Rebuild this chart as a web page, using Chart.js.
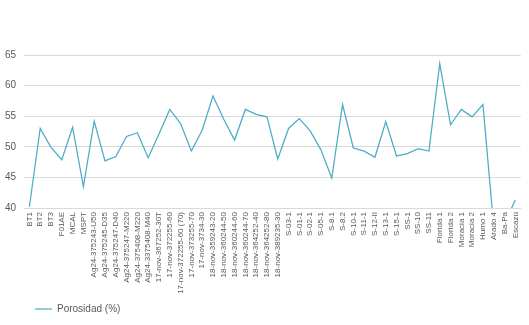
<!DOCTYPE html>
<html>
<head>
<meta charset="utf-8">
<script src="https://cdn.jsdelivr.net/npm/chart.js@4.4.1/dist/chart.umd.min.js"></script>
<style>
  html, body { margin: 0; padding: 0; background: #fff; }
  canvas { display: block; }
</style>
</head>
<body>
<canvas id="chart" width="529" height="325"></canvas>
<script>
// Chart data
const muestras = [
  "BT1", "BT2", "BT3", "F01AE", "MCAL", "MSPT",
  "Ag24-375243-U50", "Ag24-375245-D35", "Ag24-375247-D40", "Ag24-375247-M220",
  "Ag24-375408-M220", "Ag24-3375408-M40",
  "17-nov-367252-30T", "17-nov-372255-60", "17-nov-372255-60 (70)", "17-nov-373255-70", "17-nov-3734-30",
  "18-nov-359243-20", "18-nov-360244-50", "18-nov-360244-60", "18-nov-360244-70",
  "18-nov-364252-40", "18-nov-364252-80", "18-nov-389235-30",
  "S-03-1", "S-01-1", "S-02-1", "S-05-1", "S-8.1", "S-8.2", "S-10-1", "S-11-1", "S-12-II",
  "S-13-1", "S-15-1", "SS-1", "SS-10", "SS-11",
  "Florida 1", "Florida 2", "Moracia 1", "Moracia 2", "Humo 1", "Arado 4", "Ba-Pa", "Escazú"
];

const porosidad = [
  40.2, 53.0, 49.9, 47.9, 53.2, 43.5,
  54.2, 47.7, 48.4, 51.7,
  52.3, 48.2,
  52.1, 56.1, 53.8, 49.3, 52.7,
  58.3, 54.5, 51.1, 56.1,
  55.3, 54.9, 48.0,
  53.0, 54.6, 52.6, 49.5, 44.9, 56.9, 49.8, 49.3, 48.3,
  54.1, 48.5, 48.9, 49.7, 49.3,
  63.6, 53.6, 56.1, 54.9, 56.9, 37.0, 37.5, 41.3
];

const yTicks = [40, 45, 50, 55, 60, 65];

const textColor = "#595959";
const gridColor = "#d9d9d9";
const lineColor = "#4bacc6";
const fontFamily = "'Liberation Sans Narrow', 'Liberation Sans', sans-serif";

// move legend to the left like excel does
const legendShift = {
  id: "legendShift",
  afterLayout(chart) {
    chart.legend.left = 29;
  }
};

const ctx = document.getElementById("chart").getContext("2d");

new Chart(ctx, {
  type: "line",
  data: {
    labels: muestras,
    datasets: [{
      label: "Porosidad (%)",
      data: porosidad,
      borderColor: lineColor,
      backgroundColor: lineColor,
      borderWidth: 1.25,
      pointRadius: 0,
      tension: 0,
      clip: 0
    }]
  },
  options: {
    responsive: false,
    animation: false,
    devicePixelRatio: 1,
    layout: { padding: { top: 55, right: 7, left: 0, bottom: 1 } },
    plugins: {
      tooltip: { enabled: false },
      legend: {
        position: "bottom",
        align: "start",
        labels: {
          usePointStyle: true,
          pointStyle: "line",
          pointStyleWidth: 17,
          padding: 6,
          color: textColor,
          font: { family: fontFamily, size: 10 }
        }
      }
    },
    scales: {
      x: {
        offset: true,
        grid: { display: false, drawTicks: false },
        border: { display: true, color: gridColor },
        ticks: {
          autoSkip: false,
          maxRotation: 90,
          minRotation: 90,
          padding: 4,
          color: textColor,
          font: { family: fontFamily, size: 8 }
        },
        afterFit(scale) { scale.height = 90; }
      },
      y: {
        min: 40,
        max: 65,
        afterBuildTicks(scale) {
          scale.ticks = yTicks.map(v => ({ value: v }));
        },
        grid: { color: gridColor, drawTicks: false },
        border: { display: false },
        ticks: {
          padding: 8,
          color: textColor,
          font: { family: fontFamily, size: 10 }
        },
        afterFit(scale) { scale.width = 24; }
      }
    }
  },
  plugins: [legendShift]
});
</script>
</body>
</html>
